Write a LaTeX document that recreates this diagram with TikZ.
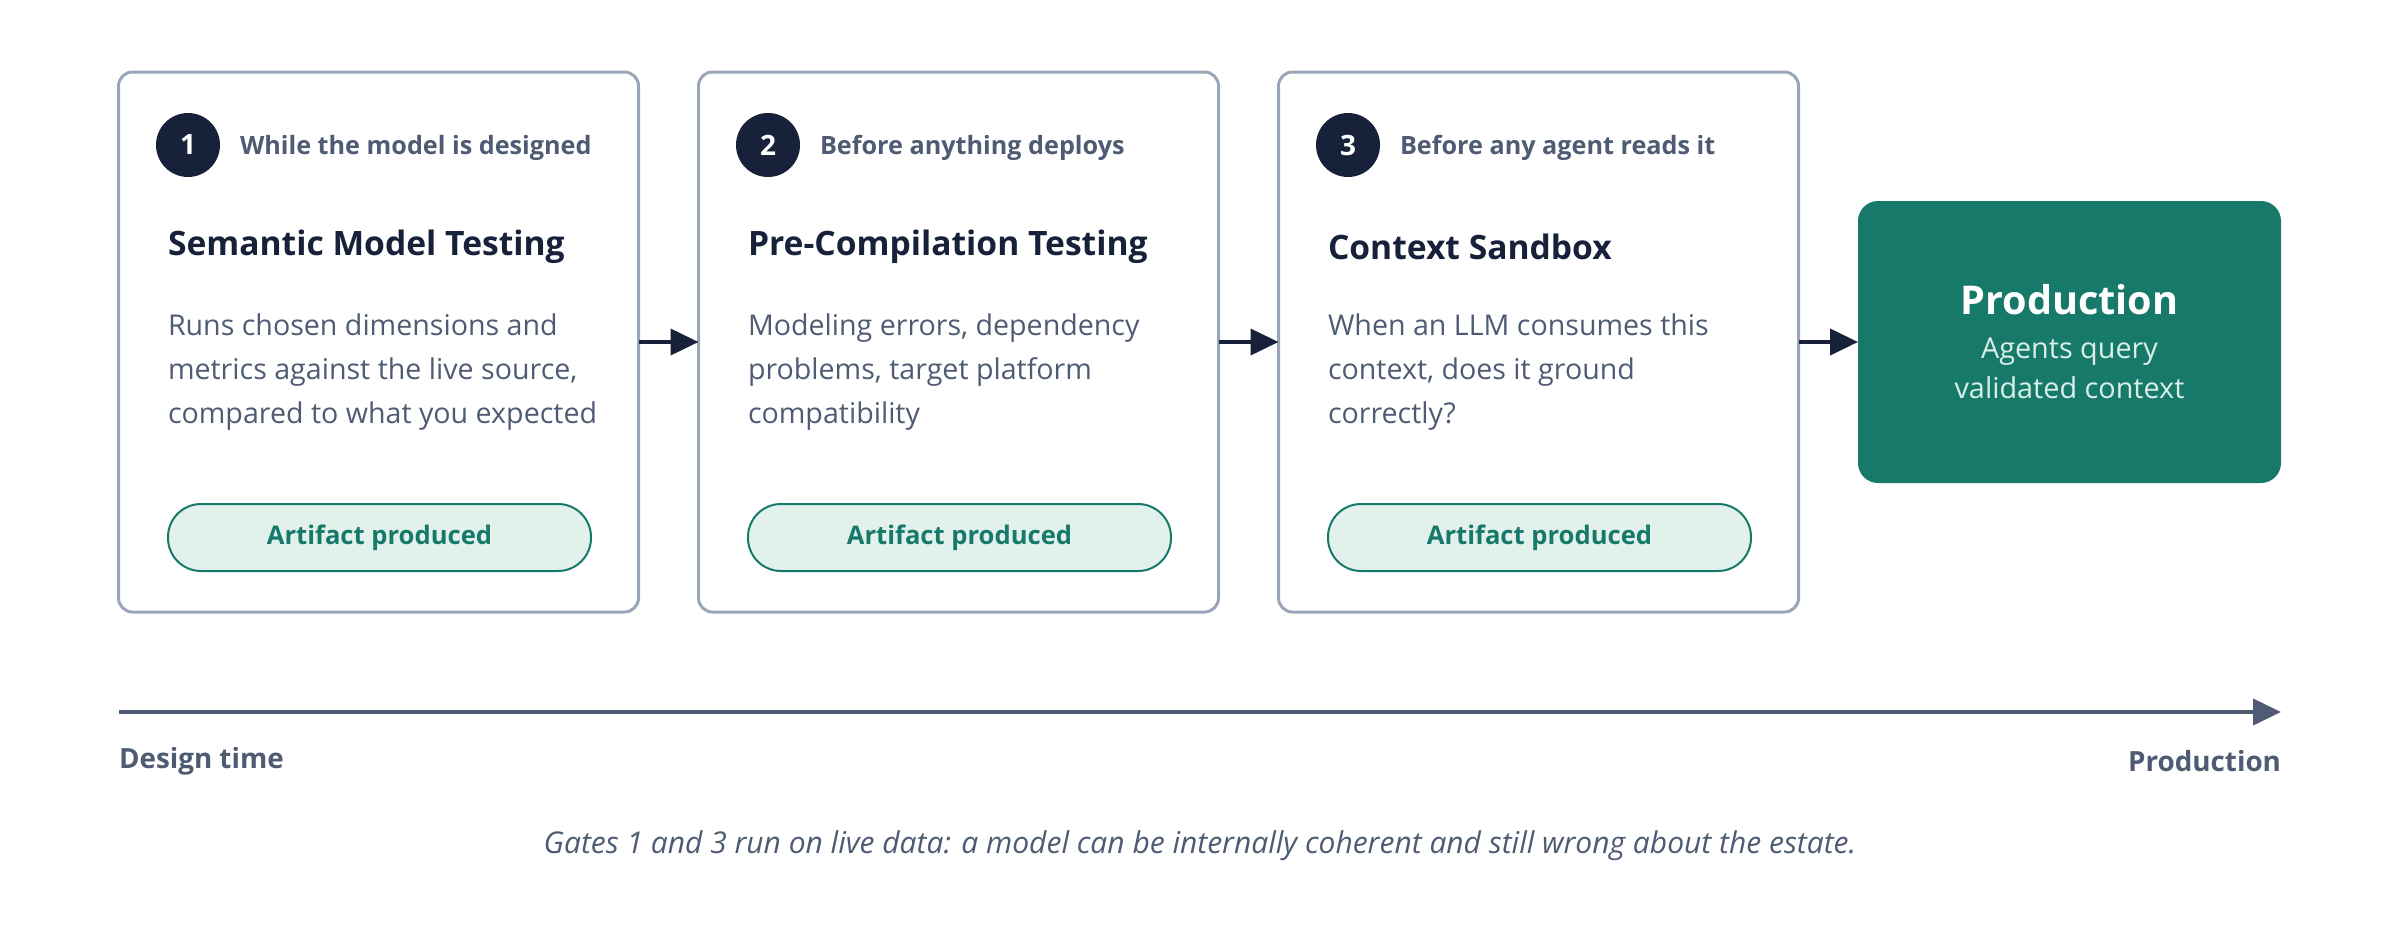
\documentclass[tikz,border=0pt]{standalone}
\usepackage{fontspec}
\setmainfont{Open Sans}
\usetikzlibrary{arrows.meta}

\definecolor{navy}{HTML}{17213A}
\definecolor{slate}{HTML}{4E5B73}
\definecolor{boxline}{HTML}{9AA6B8}
\definecolor{prodgreen}{HTML}{17796A}
\definecolor{pillfill}{HTML}{E2F1EC}
\definecolor{prodtext}{HTML}{D9F0E8}

\begin{document}
\begin{tikzpicture}[x = 0.5pt, y = -0.5pt, > = {Triangle[length = 14pt, width = 13pt]},
	every node/.style = {inner sep = 0pt, outer sep = 0pt},
	gate/.style = {draw = boxline, line width = 1.5pt, rounded corners = 7pt, minimum width = 260pt, minimum height = 270pt},
	badge/.style = {circle, fill = navy, text = white, minimum size = 32pt, font = \fontsize{14pt}{16pt}\selectfont\bfseries},
	when/.style = {anchor = west, text = slate, font = \fontsize{12.6pt}{15pt}\selectfont\bfseries},
	gatetitle/.style = {anchor = west, text = navy, font = \fontsize{16.8pt}{20pt}\selectfont\bfseries},
	gatetext/.style = {anchor = west, align = left, text = slate, font = \fontsize{14.3pt}{21.8pt}\selectfont},
	pill/.style = {draw = prodgreen, line width = 1pt, fill = pillfill, text = prodgreen, rounded corners = 16.5pt, minimum width = 211.5pt, minimum height = 33.5pt, font = \fontsize{12.8pt}{15pt}\selectfont\bfseries},
	flow/.style = {->, draw = navy, line width = 2pt}]

	% Canvas

	\useasboundingbox (0, 0) rectangle (2400, 932);

	% Gate boxes

	\node [gate] (gate1) at (378.5, 342) {};
	\node [gate] (gate2) at (958.5, 342) {};
	\node [gate] (gate3) at (1538.5, 342) {};

	\node [badge] (badge1) at (188, 145) {1};
	\node [badge] (badge2) at (768, 145) {2};
	\node [badge] (badge3) at (1348, 145) {3};

	\node [when] (when1) at (240, 148) {While the model is designed};
	\node [when] (when2) at (820, 148) {Before anything deploys};
	\node [when] (when3) at (1400, 148) {Before any agent reads it};

	\node [gatetitle] (title1) at (168, 247) {Semantic Model Testing};
	\node [gatetitle] (title2) at (748, 247) {Pre-Compilation Testing};
	\node [gatetitle] (title3) at (1328, 247) {Context Sandbox};

	\node [gatetext] (text1) at (168, 372) {Runs chosen dimensions and\\metrics against the live source,\\compared to what you expected};
	\node [gatetext] (text2) at (748, 372) {Modeling errors, dependency\\problems, target platform\\compatibility};
	\node [gatetext] (text3) at (1328, 372) {When an LLM consumes this\\context, does it ground\\correctly?};

	\node [pill] (pill1) at (379.5, 537.5) {Artifact produced};
	\node [pill] (pill2) at (959.5, 537.5) {Artifact produced};
	\node [pill] (pill3) at (1539.5, 537.5) {Artifact produced};

	% Production box

	\node [fill = prodgreen, rounded corners = 10pt, minimum width = 211.5pt, minimum height = 141pt] (prod) at (2069.5, 342) {};
	\node [text = white, font = \fontsize{19.8pt}{22pt}\selectfont\bfseries] (prodtitle) at (2069.5, 300) {Production};
	\node [align = center, text = prodtext, font = \fontsize{14.4pt}{20pt}\selectfont] (prodsub) at (2069.5, 368) {Agents query\\validated context};

	% Flow between gates

	\draw [flow] (gate1) -- (gate2);
	\draw [flow] (gate2) -- (gate3);
	\draw [flow] (gate3) -- (prod);

	% Timeline

	\coordinate (tstart) at (119, 712);
	\coordinate (tend) at (2281, 712);

	\draw [->, draw = slate, line width = 2pt] (tstart) -- (tend);

	\node [anchor = west, text = slate, font = \fontsize{13.9pt}{16pt}\selectfont\bfseries] (designtime) at (119, 761) {Design time};
	\node [anchor = east, text = slate, font = \fontsize{13.9pt}{16pt}\selectfont\bfseries] (prodtime) at (2281, 761) {Production};

	% Caption

	\node [text = slate, font = \fontsize{15pt}{18pt}\selectfont\itshape] (caption) at (1200, 846) {Gates 1 and 3 run on live data: a model can be internally coherent and still wrong about the estate.};

\end{tikzpicture}
\end{document}
